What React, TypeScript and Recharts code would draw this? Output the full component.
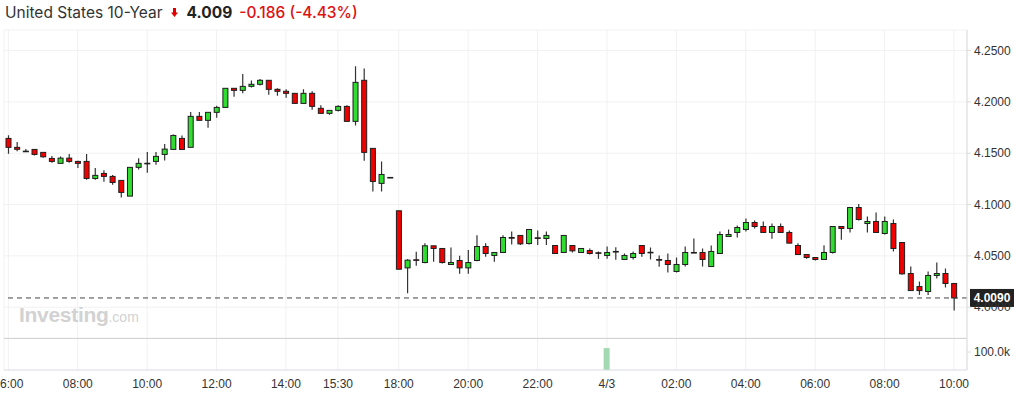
import { Bar, CartesianGrid, ComposedChart, ReferenceLine, XAxis, YAxis } from 'recharts';

// 15-minute candles, index 0 = 06:00
const open = [
  4.1644, 4.1557, 4.152, 4.1537, 4.1508, 4.1449, 4.1401, 4.1452, 4.142, 4.142,
  4.1254, 4.1303, 4.1274, 4.1235, 4.1082, 4.1362, 4.1402, 4.142, 4.1488, 4.1537,
  4.1644, 4.1557, 4.1859, 4.182, 4.1898, 4.1946, 4.2132, 4.2112, 4.2151, 4.2171,
  4.221, 4.2122, 4.2103, 4.2083, 4.1985, 4.2083, 4.1937, 4.1888, 4.1917, 4.1956,
  4.181, 4.221, 4.1547, 4.1206, 4.1264, 4.0939, 4.0383, 4.0462, 4.0435, 4.0598,
  4.0572, 4.0416, 4.0455, 4.0383, 4.0455, 4.0591, 4.0504, 4.0533, 4.0679, 4.0699,
  4.062, 4.0676, 4.0669, 4.0601, 4.0533, 4.0601, 4.0533, 4.0552, 4.053, 4.0504,
  4.0543, 4.0465, 4.0484, 4.0601, 4.0535, 4.0465, 4.0455, 4.0348, 4.0416, 4.0533,
  4.0533, 4.0396, 4.0523, 4.0689, 4.0728, 4.0757, 4.0825, 4.0786, 4.0728, 4.0786,
  4.0728, 4.0601, 4.0513, 4.0484, 4.0465, 4.0533, 4.0786, 4.0767, 4.0971, 4.0815,
  4.0835, 4.0718, 4.0815, 4.063, 4.0328, 4.0201, 4.0153, 4.0309, 4.0328, 4.0231,
];
const high = [
  4.1676, 4.1608, 4.154, 4.154, 4.151, 4.1472, 4.1469, 4.1491, 4.1426, 4.1491,
  4.1355, 4.1335, 4.1287, 4.1235, 4.1362, 4.1452, 4.1511, 4.1511, 4.1589, 4.1683,
  4.1673, 4.1901, 4.1901, 4.1898, 4.1962, 4.2132, 4.2132, 4.2271, 4.2209, 4.2222,
  4.221, 4.2132, 4.2122, 4.2083, 4.2122, 4.2103, 4.1966, 4.1917, 4.1966, 4.1966,
  4.2346, 4.2326, 4.1547, 4.142, 4.1264, 4.0939, 4.0468, 4.0539, 4.0624, 4.0598,
  4.0572, 4.0582, 4.05, 4.0556, 4.0702, 4.0624, 4.0533, 4.0702, 4.0738, 4.0699,
  4.0757, 4.0747, 4.0738, 4.0601, 4.0699, 4.0601, 4.0572, 4.0572, 4.0543, 4.0591,
  4.0585, 4.0523, 4.0543, 4.0601, 4.0582, 4.0504, 4.0523, 4.0484, 4.0591, 4.0669,
  4.0572, 4.0601, 4.0738, 4.0757, 4.0796, 4.0864, 4.0845, 4.0835, 4.0815, 4.0815,
  4.0747, 4.0624, 4.0513, 4.0484, 4.0604, 4.0786, 4.0786, 4.0971, 4.1004, 4.0884,
  4.0923, 4.0884, 4.0854, 4.063, 4.0396, 4.025, 4.0348, 4.0435, 4.0377, 4.0231,
];
const low = [
  4.1494, 4.1518, 4.1516, 4.1478, 4.1455, 4.1406, 4.1401, 4.1406, 4.1355, 4.1241,
  4.1241, 4.1221, 4.1192, 4.1069, 4.1082, 4.1342, 4.1309, 4.1387, 4.143, 4.1537,
  4.1537, 4.1557, 4.182, 4.1748, 4.1845, 4.1946, 4.205, 4.2083, 4.2141, 4.2159,
  4.2069, 4.206, 4.204, 4.1985, 4.1985, 4.1923, 4.1888, 4.1875, 4.1907, 4.181,
  4.1771, 4.1426, 4.1128, 4.1128, 4.1264, 4.037, 4.0136, 4.0403, 4.0429, 4.0442,
  4.0426, 4.0416, 4.0325, 4.0325, 4.0448, 4.0491, 4.0442, 4.0533, 4.0611, 4.0607,
  4.0611, 4.0607, 4.0607, 4.0523, 4.0533, 4.0533, 4.0533, 4.0513, 4.0471, 4.0471,
  4.0461, 4.0465, 4.0465, 4.0491, 4.0465, 4.0393, 4.0338, 4.0338, 4.0396, 4.053,
  4.0396, 4.0396, 4.0523, 4.0689, 4.0679, 4.0738, 4.0767, 4.0728, 4.0666, 4.0728,
  4.0624, 4.0513, 4.0471, 4.0455, 4.0465, 4.0523, 4.0656, 4.0728, 4.0845, 4.0728,
  4.0728, 4.0708, 4.0543, 4.0315, 4.0162, 4.012, 4.012, 4.0279, 4.0192, 3.9968,
];
const close = [
  4.1557, 4.1538, 4.1518, 4.1488, 4.1465, 4.142, 4.1452, 4.142, 4.1401, 4.1254,
  4.1284, 4.1274, 4.1215, 4.1118, 4.1362, 4.1401, 4.1399, 4.1469, 4.154, 4.1673,
  4.1537, 4.1859, 4.182, 4.1898, 4.1946, 4.2132, 4.2112, 4.2151, 4.2171, 4.221,
  4.2122, 4.2103, 4.2083, 4.1985, 4.2083, 4.1956, 4.1888, 4.1917, 4.1956, 4.181,
  4.219, 4.1508, 4.1225, 4.1293, 4.1264, 4.037, 4.0458, 4.0456, 4.0598, 4.0572,
  4.0435, 4.0435, 4.0383, 4.0435, 4.0591, 4.0523, 4.0533, 4.0679, 4.0672, 4.0617,
  4.0757, 4.067, 4.0699, 4.0523, 4.0699, 4.0549, 4.0572, 4.0523, 4.0526, 4.0533,
  4.054, 4.0504, 4.0523, 4.0523, 4.0531, 4.0458, 4.0416, 4.0416, 4.0533, 4.053,
  4.0465, 4.0543, 4.0708, 4.0708, 4.0776, 4.0825, 4.0786, 4.0728, 4.0786, 4.0728,
  4.0624, 4.0513, 4.0484, 4.0465, 4.0533, 4.0786, 4.0767, 4.0971, 4.0854, 4.0835,
  4.0728, 4.0835, 4.0572, 4.0325, 4.0162, 4.0162, 4.0309, 4.0328, 4.0231, 4.009,
];
const volume = [
  0, 0, 0, 0, 0, 0, 0, 0, 0, 0, 0, 0, 0, 0, 0, 0, 0, 0, 0, 0,
  0, 0, 0, 0, 0, 0, 0, 0, 0, 0, 0, 0, 0, 0, 0, 0, 0, 0, 0, 0,
  0, 0, 0, 0, 0, 0, 0, 0, 0, 0, 0, 0, 0, 0, 0, 0, 0, 0, 0, 0,
  0, 0, 0, 0, 0, 0, 0, 0, 0, 122000, 0, 0, 0, 0, 0, 0, 0, 0, 0, 0,
  0, 0, 0, 0, 0, 0, 0, 0, 0, 0, 0, 0, 0, 0, 0, 0, 0, 0, 0, 0,
  0, 0, 0, 0, 0, 0, 0, 0, 0, 0,
];

const tickIdx = [0, 8, 16, 24, 32, 38, 45, 53, 61, 69, 77, 85, 93, 101, 109];
const tickLabels = ['06:00', '08:00', '10:00', '12:00', '14:00', '15:30', '18:00', '20:00', '22:00', '4/3', '02:00', '04:00', '06:00', '08:00', '10:00'];
const priceTicks = [4.0, 4.05, 4.1, 4.15, 4.2, 4.25];
const lastPrice = 4.009;

const UP = '#2fdc2f';
const DOWN = '#f20000';
const AXIS_FONT = 'Liberation Sans, Arial, sans-serif';

const rows = open.map((o, i) => ({
  i,
  open: o,
  close: close[i],
  range: [low[i], high[i]],
  volume: volume[i],
}));

function Candle(props: any) {
  const { x, y, width, height, payload } = props;
  if (x == null || y == null) return null;
  const [lo, hi] = payload.range;
  const top = Math.min(y, y + height);
  const h = Math.abs(height);
  const span = hi - lo;
  const toY = (v: number) => (span > 0 ? top + ((hi - v) / span) * h : top);
  const cx = x + width / 2;
  const up = payload.close >= payload.open;
  const bTop = toY(Math.max(payload.open, payload.close));
  const bBot = toY(Math.min(payload.open, payload.close));
  return (
    <g>
      {h > 0 && <line x1={cx} x2={cx} y1={top} y2={top + h} stroke="#333" strokeWidth={1.2} />}
      <rect
        x={cx - 2.5}
        y={bTop}
        width={5}
        height={Math.max(bBot - bTop, 0.6)}
        fill={up ? UP : DOWN}
        stroke="#1e1e1e"
        strokeWidth={1}
      />
    </g>
  );
}

function PriceTag(props: any) {
  const vb = props.viewBox;
  if (!vb) return null;
  const left = vb.x + vb.width + 3;
  return (
    <g>
      <rect x={left} y={vb.y - 9} width={44} height={18} fill="#222" />
      <text x={left + 22} y={vb.y + 4} textAnchor="middle" fill="#fff" fontSize={12} fontWeight="bold" fontFamily={AXIS_FONT}>
        {lastPrice.toFixed(4)}
      </text>
    </g>
  );
}

export default function App() {
  return (
    <div style={{ position: 'fixed', left: 0, top: 0, width: 1028, height: 404, background: '#fff', overflow: 'hidden' }}>
      <div style={{ position: 'absolute', left: 5, top: 3, fontFamily: 'Inter, sans-serif', fontSize: 15.5, color: '#333', whiteSpace: 'nowrap', display: 'flex', alignItems: 'center' }}>
        <span>United States 10-Year</span>
        <svg width={7} height={9} style={{ margin: '0 9px 0 8px' }}>
          <path d="M2 0 H5 V4.5 H7 L3.5 9 L0 4.5 H2 Z" fill="#e00000" />
        </svg>
        <span style={{ fontWeight: 700, color: '#222' }}>4.009</span>
        <span style={{ color: '#dd1111', fontWeight: 500, marginLeft: 7 }}>-0.186 (-4.43%)</span>
      </div>

      <div style={{ position: 'absolute', left: 0, top: 0 }}>
        <ComposedChart width={1028} height={338} data={rows} margin={{ top: 30, right: 0, bottom: 0, left: 4 }}>
          <CartesianGrid stroke="#f1f1f1" />
          <XAxis dataKey="i" type="number" domain={[-0.5, 110.5]} ticks={tickIdx} hide />
          <YAxis
            orientation="right"
            width={61}
            domain={[3.97, 4.27]}
            ticks={priceTicks}
            tickFormatter={(v: number) => v.toFixed(4)}
            tick={{ fontSize: 12, fill: '#333', fontFamily: AXIS_FONT }}
            tickSize={4}
            tickMargin={3}
            stroke="#dcdcdc"
            allowDataOverflow
          />
          <Bar dataKey="range" barSize={7} shape={Candle} isAnimationActive={false} />
          <ReferenceLine y={lastPrice} stroke="#444" strokeDasharray="5 4" label={PriceTag} />
        </ComposedChart>
      </div>

      <div style={{ position: 'absolute', left: 19, top: 303, color: '#d2d2d2', fontFamily: 'Liberation Sans, Arial, sans-serif', whiteSpace: 'nowrap' }}>
        <span style={{ fontSize: 21, fontWeight: 700, letterSpacing: -0.3 }}>Investing</span>
        <span style={{ fontSize: 14 }}>.com</span>
      </div>

      <div style={{ position: 'absolute', left: 0, top: 338 }}>
        <ComposedChart width={1028} height={66} data={rows} margin={{ top: 0, right: 0, bottom: 0, left: 4 }}>
          <CartesianGrid stroke="#f1f1f1" horizontal={false} />
          <XAxis
            dataKey="i"
            type="number"
            domain={[-0.5, 110.5]}
            ticks={tickIdx}
            tickFormatter={(v: number) => tickLabels[tickIdx.indexOf(v)] ?? ''}
            height={34}
            tickSize={0}
            tickMargin={9}
            stroke="#d6dae2"
            tick={{ fontSize: 12, fill: '#333', fontFamily: AXIS_FONT }}
            interval={0}
          />
          <YAxis
            orientation="right"
            width={61}
            domain={[0, 178000]}
            ticks={[100000]}
            tickFormatter={(v: number) => (v / 1000).toFixed(1) + 'k'}
            tick={{ fontSize: 12, fill: '#333', fontFamily: AXIS_FONT }}
            tickSize={4}
            tickMargin={3}
            stroke="#dcdcdc"
          />
          <ReferenceLine y={178000} stroke="#c4c4c4" strokeWidth={1.5} />
          <Bar dataKey="volume" barSize={6} fill="#a3d9b1" isAnimationActive={false} />
        </ComposedChart>
      </div>
    </div>
  );
}
